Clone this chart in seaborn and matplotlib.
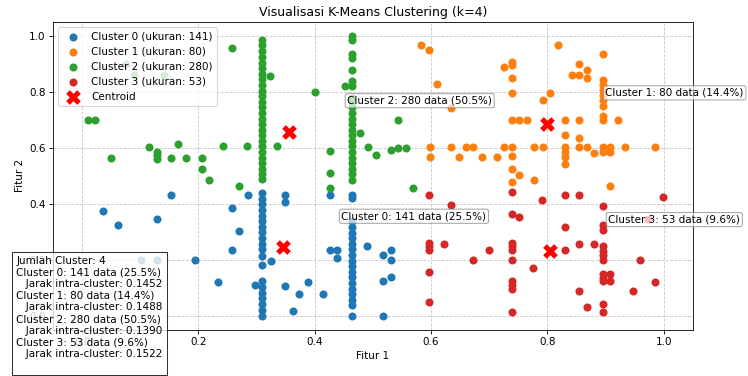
import numpy as np
import matplotlib
matplotlib.use("Agg")
import matplotlib.pyplot as plt
import seaborn as sns

plt.rcParams['font.family'] = ['DejaVu Sans']

# ---------------- data ----------------
cluster_ids = [0, 1, 2, 3]
cluster_sizes = [141, 80, 280, 53]
cluster_pct = [25.5, 14.4, 50.5, 9.6]
intra_dist = [0.1452, 0.1488, 0.1390, 0.1522]
cluster_colors = ['#1f77b4', '#ff7f0e', '#2ca02c', '#d62728']

centroid_x = [0.346, 0.800, 0.356, 0.805]
centroid_y = [0.245, 0.686, 0.658, 0.233]

# cluster 0 (blue): two dense columns + scattered points
c0_colA_x = 0.309
c0_colA_y = [0.438, 0.418, 0.398, 0.378, 0.358, 0.338, 0.318, 0.298, 0.278, 0.258,
             0.238, 0.212, 0.182, 0.123, 0.103, 0.083, 0.063, 0.043, 0.021, 0.0]
c0_colB_x = 0.465
c0_colB_y = [0.433, 0.421, 0.337, 0.317, 0.297, 0.277, 0.257, 0.237, 0.217, 0.197,
             0.177, 0.157, 0.137, 0.117, 0.097, 0.077, 0.057, 0.039, 0.0]
c0_points = [(0.324, 0.196), (0.297, 0.111), (0.153, 0.432), (0.036, 0.376), (0.062, 0.325),
             (0.128, 0.346), (0.194, 0.200), (0.102, 0.200), (0.128, 0.200), (0.257, 0.384),
             (0.285, 0.430), (0.270, 0.304), (0.257, 0.236), (0.233, 0.120), (0.349, 0.430),
             (0.349, 0.408), (0.349, 0.108), (0.373, 0.079), (0.388, 0.120), (0.362, 0.018),
             (0.414, 0.079), (0.427, 0.236), (0.439, 0.236), (0.439, 0.208), (0.490, 0.248),
             (0.518, 0.218), (0.531, 0.236), (0.531, 0.198), (0.518, 0.125), (0.531, 0.138),
             (0.518, 0.0), (0.427, 0.430)]

# cluster 1 (orange)
c1_points = [(0.582, 0.969), (0.596, 0.949), (0.610, 0.830), (0.635, 0.741), (0.726, 0.890),
             (0.739, 0.907), (0.739, 0.895), (0.739, 0.851), (0.739, 0.798), (0.739, 0.700),
             (0.752, 0.700), (0.765, 0.700), (0.599, 0.603), (0.599, 0.566), (0.635, 0.603),
             (0.648, 0.566), (0.660, 0.603), (0.673, 0.603), (0.688, 0.566), (0.713, 0.566),
             (0.726, 0.603), (0.739, 0.603), (0.739, 0.572), (0.739, 0.525), (0.752, 0.504),
             (0.777, 0.603), (0.792, 0.603), (0.739, 0.478), (0.777, 0.486), (0.792, 0.771),
             (0.805, 0.798), (0.818, 0.969), (0.896, 0.937), (0.855, 0.901), (0.843, 0.860),
             (0.855, 0.860), (0.869, 0.877), (0.869, 0.850), (0.896, 0.842), (0.896, 0.824),
             (0.896, 0.806), (0.896, 0.788), (0.896, 0.770), (0.896, 0.749), (0.896, 0.713),
             (0.896, 0.698), (0.830, 0.700), (0.855, 0.700), (0.921, 0.700), (0.830, 0.645),
             (0.855, 0.634), (0.830, 0.603), (0.830, 0.587), (0.830, 0.568), (0.830, 0.541),
             (0.855, 0.603), (0.869, 0.603), (0.881, 0.583), (0.896, 0.603), (0.896, 0.587),
             (0.908, 0.603), (0.908, 0.587), (0.934, 0.603), (0.986, 0.603), (0.908, 0.464)]

# cluster 2 (green): two dense columns + scattered points
c2_colA_x = 0.309
c2_colA_y = [0.985, 0.967, 0.945, 0.925, 0.905, 0.885, 0.865, 0.845, 0.825, 0.805,
             0.785, 0.765, 0.745, 0.725, 0.705, 0.685, 0.665, 0.645, 0.625, 0.605,
             0.585, 0.565, 0.545, 0.525, 0.505, 0.490]
c2_colB_x = 0.465
c2_colB_y = [1.0, 0.985, 0.937, 0.920, 0.877, 0.840, 0.821, 0.780, 0.764, 0.745, 0.725,
             0.705, 0.685, 0.665, 0.645, 0.625, 0.605, 0.585, 0.565, 0.545, 0.525,
             0.505, 0.485]
c2_points = [(0.076, 0.901), (0.090, 0.860), (0.141, 0.860), (0.010, 0.699), (0.023, 0.699),
             (0.049, 0.564), (0.115, 0.603), (0.128, 0.586), (0.128, 0.574), (0.128, 0.562),
             (0.153, 0.564), (0.165, 0.613), (0.179, 0.564), (0.206, 0.564), (0.206, 0.525),
             (0.218, 0.487), (0.243, 0.605), (0.257, 0.956), (0.269, 0.465), (0.284, 0.605),
             (0.336, 0.605), (0.323, 0.857), (0.401, 0.799), (0.427, 0.590), (0.427, 0.512),
             (0.427, 0.456), (0.452, 0.822), (0.478, 0.652), (0.491, 0.603), (0.505, 0.573),
             (0.531, 0.592), (0.544, 0.601), (0.557, 0.601), (0.544, 0.700), (0.569, 0.455)]

# cluster 3 (red)
c3_points = [(0.596, 0.432), (0.635, 0.396), (0.596, 0.260), (0.596, 0.248), (0.596, 0.236),
             (0.622, 0.256), (0.596, 0.158), (0.596, 0.049), (0.673, 0.200), (0.700, 0.236),
             (0.739, 0.444), (0.739, 0.364), (0.752, 0.352), (0.739, 0.260), (0.739, 0.248),
             (0.739, 0.236), (0.739, 0.200), (0.739, 0.123), (0.739, 0.111), (0.739, 0.096),
             (0.739, 0.012), (0.776, 0.169), (0.791, 0.414), (0.830, 0.432), (0.855, 0.432),
             (0.896, 0.394), (0.896, 0.325), (0.896, 0.307), (0.830, 0.317), (0.830, 0.236),
             (0.855, 0.256), (0.881, 0.256), (0.896, 0.248), (0.896, 0.232), (0.896, 0.218),
             (0.896, 0.198), (0.896, 0.149), (0.896, 0.135), (0.896, 0.123), (0.908, 0.149),
             (0.908, 0.123), (0.855, 0.089), (0.869, 0.030), (0.896, 0.042), (0.896, 0.013),
             (0.947, 0.089), (0.960, 0.198), (0.986, 0.120), (0.999, 0.424), (0.973, 0.345)]


def assemble(points, columns=()):
    xs = [p[0] for p in points]
    ys = [p[1] for p in points]
    for cx, cys in columns:
        xs += [cx] * len(cys)
        ys += list(cys)
    return np.array(xs), np.array(ys)


clusters = [
    assemble(c0_points, [(c0_colA_x, c0_colA_y), (c0_colB_x, c0_colB_y)]),
    assemble(c1_points),
    assemble(c2_points, [(c2_colA_x, c2_colA_y), (c2_colB_x, c2_colB_y)]),
    assemble(c3_points),
]

# ---------------- plot ----------------
dpi = 74.8
fig, ax = plt.subplots(figsize=(748 / dpi, 376 / dpi), dpi=dpi)
fig.subplots_adjust(left=0.0709, right=0.926, top=0.9415, bottom=0.123)

for i, (xs, ys) in zip(cluster_ids, clusters):
    sns.scatterplot(x=xs, y=ys, color=cluster_colors[i], s=60, linewidth=0,
                    label=f'Cluster {i} (ukuran: {cluster_sizes[i]})', ax=ax, zorder=2)

sns.scatterplot(x=centroid_x, y=centroid_y, color='red', marker='X', s=200,
                linewidth=0, label='Centroid', ax=ax, zorder=3)

for i in cluster_ids:
    ax.annotate(f'Cluster {i}: {cluster_sizes[i]} data ({cluster_pct[i]}%)',
                xy=(centroid_x[i], centroid_y[i]),
                xytext=(centroid_x[i] + 0.1, centroid_y[i] + 0.1),
                fontsize=10, zorder=4,
                bbox=dict(boxstyle='round,pad=0.2', fc='white', ec='gray', alpha=0.7))

ax.set_xlim(-0.05, 1.05)
ax.set_ylim(-0.05, 1.05)
ax.set_title('Visualisasi K-Means Clustering (k=4)', fontsize=12)
ax.set_xlabel('Fitur 1', fontsize=10)
ax.set_ylabel('Fitur 2', fontsize=10)
ax.grid(True, linestyle='--', alpha=0.7)
ax.set_axisbelow(True)
ax.legend(loc='upper left', fontsize=10)

info = 'Jumlah Cluster: 4\n'
for i in cluster_ids:
    info += f'Cluster {i}: {cluster_sizes[i]} data ({cluster_pct[i]}%)\n'
    info += f'   Jarak intra-cluster: {intra_dist[i]:.4f}\n'
fig.text(0.022, 0.02, info, fontsize=10,
         bbox=dict(facecolor='white', alpha=0.8))

fig.savefig('out.png', dpi=dpi)
